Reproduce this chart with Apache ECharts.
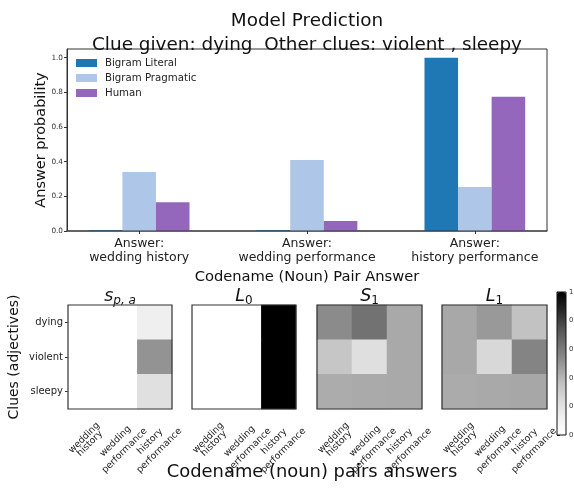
<!DOCTYPE html>
<html>
<head>
<meta charset="utf-8">
<title>Model Prediction</title>
<script src="https://cdn.jsdelivr.net/npm/echarts@6/dist/echarts.min.js"></script>
<style>
html, body { margin: 0; padding: 0; background: #fff; }
#main { width: 574px; height: 490px; }
</style>
</head>
<body>
<div id="main"></div>
<script>
// top bar chart
var answerCats = ['Answer:\nwedding history', 'Answer:\nwedding performance', 'Answer:\nhistory performance'];
var bigramLiteral = [0.005, 0.005, 1.0];
var bigramPragmatic = [0.34, 0.41, 0.254];
var human = [0.166, 0.058, 0.775];
var probTicks = [0, 0.2, 0.4, 0.6, 0.8, 1.0];

// heatmaps, rows = clues, cols = noun pairs
var clues = ['dying', 'violent', 'sleepy'];
var pairCats = ['wedding\nhistory', 'wedding\nperformance', 'history\nperformance'];
var sPA = [[0, 0, 0.13], [0, 0, 0.51], [0, 0, 0.21]];
var L0 = [[0, 0, 1], [0, 0, 1], [0, 0, 1]];
var S1 = [[0.54, 0.63, 0.44], [0.335, 0.22, 0.44], [0.43, 0.436, 0.44]];
var L1 = [[0.442, 0.49, 0.353], [0.442, 0.254, 0.564], [0.433, 0.44, 0.446]];
var colorbarTicks = [0, 0.2, 0.4, 0.6, 0.8, 1.0];

var FONT = 'DejaVu Sans';
var greys = ['#ffffff', '#f0f0f0', '#d9d9d9', '#bdbdbd', '#969696', '#737373', '#525252', '#252525', '#000000'];

var chart = echarts.init(document.getElementById('main'));

var XMIN = -0.43, XMAX = 2.43, GRID_W = 480, BAR_UNITS = 0.2;
var barPx = BAR_UNITS / (XMAX - XMIN) * GRID_W;

function barSeries(name, vals, off, color) {
  return {
    name: name, type: 'bar', xAxisIndex: 0, yAxisIndex: 0,
    barWidth: barPx, barGap: '-100%',
    itemStyle: { color: color },
    emphasis: { disabled: true },
    data: vals.map(function (v, i) { return [i + off, v]; })
  };
}

// rotated tick labels: the short first label is nudged so all sit like matplotlib's centred ones
function pairLabel(v, i) {
  var lines = v.split('\n');
  if (i === 0) return '{a|' + lines[0] + '}\n{b|' + lines[1] + '}';
  return '{c|' + lines[0] + '}\n{c|' + lines[1] + '}';
}
var pairRich = {
  a: { fontSize: 9.3, lineHeight: 13, color: '#222', padding: [0, 0, 0, 10] },
  b: { fontSize: 9.3, lineHeight: 13, color: '#222', padding: [0, 0, 10, 10] },
  c: { fontSize: 9.3, lineHeight: 13, color: '#222' }
};

var heatLeft = [68, 192, 317, 442];
var heatW = [104, 104, 105, 105];
var mats = [sPA, L0, S1, L1];
var heatTitles = ['{m|s}{s|p, a}', '{m|L}{r|0}', '{m|S}{r|1}', '{m|L}{r|1}'];

var grids = [{ left: 67, top: 49, width: GRID_W, height: 182, show: true, borderColor: '#333', borderWidth: 1,
  backgroundColor: 'transparent', z: 5, outerBoundsMode: 'none' }];
var xAxes = [{
  type: 'value', gridIndex: 0, min: XMIN, max: XMAX, splitLine: { show: false },
  axisLine: { lineStyle: { color: '#777', width: 1.5 } },
  axisTick: { customValues: [0, 1, 2], length: 3, lineStyle: { color: '#333' } },
  axisLabel: {
    customValues: [0, 1, 2], fontSize: 12.5, lineHeight: 14.5, margin: 5, color: '#222',
    formatter: function (v) { return answerCats[Math.round(v)]; }
  },
  name: 'Codename (Noun) Pair Answer', nameLocation: 'middle', nameGap: 39, nameMoveOverlap: false,
  nameTextStyle: { fontSize: 14.7, color: '#111' }
}];
var yAxes = [{
  type: 'value', gridIndex: 0, min: 0, max: 1.05, interval: 0.2,
  splitLine: { show: false },
  axisLine: { show: true, onZero: false, lineStyle: { color: '#333' } },
  axisTick: { show: true, length: 3, lineStyle: { color: '#333' } },
  axisLabel: { fontSize: 7.3, margin: 4, color: '#333', showMaxLabel: false,
    formatter: function (v) { return probTicks.indexOf(Math.round(v * 10) / 10) >= 0 ? v.toFixed(1) : ''; } },
  name: 'Answer probability', nameLocation: 'middle', nameRotate: 90, nameGap: 18, nameMoveOverlap: false,
  nameTextStyle: { fontSize: 14.5, color: '#111' }
}];
var series = [
  barSeries('Bigram Literal', bigramLiteral, -0.2, '#1f77b4'),
  barSeries('Bigram Pragmatic', bigramPragmatic, 0, '#aec7e8'),
  barSeries('Human', human, 0.2, '#9467bd')
];
var titles = [{
  text: 'Model Prediction\nClue given: dying  Other clues: violent , sleepy',
  left: 307, top: 9, textAlign: 'center', padding: 0,
  textStyle: { fontSize: 18.4, lineHeight: 24, fontWeight: 'normal', color: '#111', fontFamily: FONT }
}];

mats.forEach(function (m, k) {
  var gi = k + 1;
  grids.push({ left: heatLeft[k], top: 305, width: heatW[k], height: 104, show: true,
    borderColor: '#333', borderWidth: 1.2, backgroundColor: 'transparent', z: 5, outerBoundsMode: 'none' });
  xAxes.push({
    type: 'category', gridIndex: gi, data: pairCats,
    axisLine: { show: false }, splitLine: { show: false },
    axisTick: { alignWithLabel: true, length: 3, lineStyle: { color: '#333' } },
    axisLabel: { rotate: 45, interval: 0, align: 'center', verticalAlign: 'middle', margin: 37,
      formatter: pairLabel, rich: pairRich }
  });
  var ya = {
    type: 'category', gridIndex: gi, data: clues, inverse: true,
    axisLine: { show: false }, splitLine: { show: false },
    axisTick: { show: k === 0, alignWithLabel: true, length: 3, lineStyle: { color: '#333' } },
    axisLabel: { show: k === 0, fontSize: 10, margin: 5, color: '#222' }
  };
  if (k === 0) {
    ya.name = 'Clues (adjectives)';
    ya.nameLocation = 'middle';
    ya.nameRotate = 90;
    ya.nameGap = 47;
    ya.nameMoveOverlap = false;
    ya.nameTextStyle = { fontSize: 14, color: '#111' };
  }
  yAxes.push(ya);
  var data = [];
  m.forEach(function (row, r) {
    row.forEach(function (v, c) { data.push([c, r, v]); });
  });
  series.push({ type: 'heatmap', xAxisIndex: gi, yAxisIndex: gi, data: data, emphasis: { disabled: true } });
  titles.push({
    text: heatTitles[k], left: heatLeft[k] + heatW[k] / 2, top: 285, textAlign: 'center', padding: 0,
    textStyle: {
      fontFamily: FONT, fontWeight: 'normal',
      rich: {
        m: { fontSize: 17.5, fontStyle: 'italic', fontWeight: 'normal', fontFamily: FONT, color: '#111', lineHeight: 22 },
        s: { fontSize: 12, fontStyle: 'italic', fontWeight: 'normal', fontFamily: FONT, color: '#111', lineHeight: 14, padding: [9.5, 0, 0, 0] },
        r: { fontSize: 12, fontWeight: 'normal', fontFamily: FONT, color: '#111', lineHeight: 14, padding: [9.5, 0, 0, 0] }
      }
    }
  });
});

// colorbar axis (labels run off the right edge as in the original)
grids.push({ left: 557, top: 292, width: 9, height: 143, show: true, borderColor: '#111', borderWidth: 1,
  backgroundColor: 'transparent', z: 5, outerBoundsMode: 'none' });
xAxes.push({ type: 'value', gridIndex: 5, show: false });
yAxes.push({
  type: 'value', gridIndex: 5, position: 'right', min: 0, max: 1, interval: 0.2,
  axisLine: { show: false }, splitLine: { show: false },
  axisTick: { show: true, length: 3, lineStyle: { color: '#333' } },
  axisLabel: { fontSize: 6.8, margin: 3, color: '#333', hideOverlap: false,
    formatter: function (v) { return colorbarTicks.indexOf(Math.round(v * 10) / 10) >= 0 ? v.toFixed(1) : ''; } }
});

titles.push({
  text: 'Codename (noun) pairs answers', left: 312, top: 463, textAlign: 'center', padding: 0,
  textStyle: { fontSize: 17.9, fontWeight: 'normal', color: '#111', fontFamily: FONT }
});

var option = {
  animation: false,
  textStyle: { fontFamily: FONT },
  title: titles,
  legend: {
    data: ['Bigram Literal', 'Bigram Pragmatic', 'Human'],
    orient: 'vertical', left: 76, top: 57, padding: 0,
    itemWidth: 21, itemHeight: 8, itemGap: 3, icon: 'rect',
    textStyle: { fontSize: 10.2, lineHeight: 12, color: '#222', padding: [0, 0, 0, 3] }
  },
  visualMap: {
    type: 'continuous', min: 0, max: 1, seriesIndex: [3, 4, 5, 6],
    inRange: { color: greys },
    left: 557, top: 292, itemWidth: 9, itemHeight: 143, padding: 0,
    calculable: false, hoverLink: false, show: true
  },
  grid: grids,
  xAxis: xAxes,
  yAxis: yAxes,
  series: series
};

chart.setOption(option);
</script>
</body>
</html>
